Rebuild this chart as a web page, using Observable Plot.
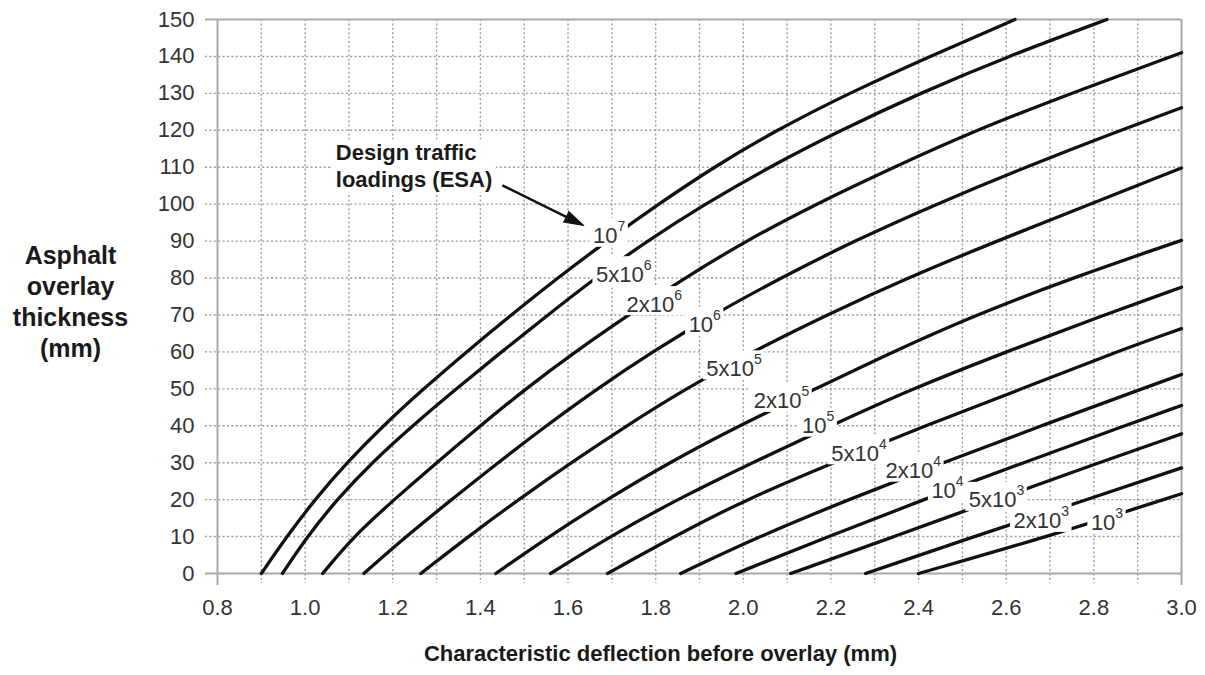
<!DOCTYPE html>
<html>
<head>
<meta charset="utf-8">
<script src="https://cdn.jsdelivr.net/npm/d3@7"></script>
<script src="https://cdn.jsdelivr.net/npm/@observablehq/plot@0.6"></script>
<style>
  html, body { margin: 0; padding: 0; background: #fff; }
  #chart svg { display: block; }
</style>
</head>
<body>
<div id="chart"></div>
<script>
// Design traffic loadings (ESA): label base and exponent, one per curve
const loadingBase = ["10", "5x10", "2x10", "10", "5x10", "2x10", "10", "5x10", "2x10", "10", "5x10", "2x10", "10"];
const loadingExp  = ["7",  "6",    "6",    "6",  "5",    "5",    "5",  "4",    "4",    "4",  "3",    "3",    "3"];

// Each curve: [characteristic deflection (mm), asphalt overlay thickness (mm)]
const curve1e7 = [[0.90,0],[0.958,10],[1.022,20],[1.095,30],[1.178,40],[1.27,50],[1.368,60],[1.47,70],[1.576,80],[1.688,90],[1.806,100],[1.932,110],[2.075,120],[2.24,130],[2.425,140],[2.62,150]];
const curve5e6 = [[0.948,0],[1.005,10],[1.072,20],[1.152,30],[1.245,40],[1.345,50],[1.448,60],[1.554,70],[1.662,80],[1.78,90],[1.912,100],[2.058,110],[2.222,120],[2.402,130],[2.603,140],[2.83,150]];
const curve2e6 = [[1.04,0],[1.11,10],[1.203,20],[1.30,30],[1.40,40],[1.503,50],[1.616,60],[1.738,70],[1.866,80],[2.005,90],[2.165,100],[2.343,110],[2.53,120],[2.748,130],[3.0,141]];
const curve1e6 = [[1.134,0],[1.23,10],[1.334,20],[1.44,30],[1.55,40],[1.666,50],[1.792,60],[1.93,70],[2.085,80],[2.252,90],[2.44,100],[2.643,110],[2.86,120],[3.0,126.1]];
const curve5e5 = [[1.264,0],[1.372,10],[1.487,20],[1.607,30],[1.733,40],[1.868,50],[2.02,60],[2.19,70],[2.374,80],[2.578,90],[2.792,100],[3.0,109.8]];
const curve2e5 = [[1.435,0],[1.556,10],[1.688,20],[1.83,30],[1.99,40],[2.165,50],[2.34,60],[2.53,70],[2.75,80],[3.0,90.2]];
const curve1e5 = [[1.56,0],[1.695,10],[1.848,20],[2.02,30],[2.2,40],[2.385,50],[2.6,60],[2.823,70],[3.0,77.5]];
const curve5e4 = [[1.69,0],[1.842,10],[2.005,20],[2.205,30],[2.415,40],[2.636,50],[2.85,60],[3.0,66.3]];
const curve2e4 = [[1.857,0],[2.035,10],[2.24,20],[2.455,30],[2.68,40],[2.91,50],[3.0,53.9]];
const curve1e4 = [[1.983,0],[2.195,10],[2.41,20],[2.64,30],[2.87,40],[3.0,45.5]];
const curve5e3 = [[2.108,0],[2.345,10],[2.576,20],[2.812,30],[3.0,37.8]];
const curve2e3 = [[2.279,0],[2.525,10],[2.785,20],[3.0,28.6]];
const curve1e3 = [[2.40,0],[2.71,10.5],[3.0,21.6]];

const curves = [curve1e7, curve5e6, curve2e6, curve1e6, curve5e5, curve2e5, curve1e5,
                curve5e4, curve2e4, curve1e4, curve5e3, curve2e3, curve1e3];

// Where each loading label sits on the chart (deflection, thickness)
const labelDeflection = [1.694, 1.727, 1.797, 1.912, 1.979, 2.087, 2.171, 2.264, 2.388, 2.466, 2.578, 2.68, 2.83];
const labelThickness  = [91.3, 80.9, 72.8, 67.2, 55.4, 46.6, 39.9, 32.4, 27.7, 22.3, 19.8, 14.1, 13.7];

// Axis ticks
const xTicks = [0.8, 1.0, 1.2, 1.4, 1.6, 1.8, 2.0, 2.2, 2.4, 2.6, 2.8, 3.0];
const yTicks = [0, 10, 20, 30, 40, 50, 60, 70, 80, 90, 100, 110, 120, 130, 140, 150];

// Callout text and arrow (deflection, thickness)
const noteLines = ["Design traffic", "loadings (ESA)"];
const notePos = [1.07, 110.6];
const arrowFrom = [1.45, 105.1];
const arrowTo = [1.636, 94.2];

const xTitle = "Characteristic deflection before overlay (mm)";
const yTitle = ["Asphalt", "overlay", "thickness", "(mm)"];

// ---- layout ----
const W = 1205, H = 675;
const margin = {top: 19, right: 24, bottom: 102, left: 217};
const xDomain = [0.8, 3.0], yDomain = [0, 150];
const kx = (W - margin.left - margin.right) / (xDomain[1] - xDomain[0]); // px per mm deflection
const ky = (H - margin.top - margin.bottom) / (yDomain[1] - yDomain[0]); // px per mm thickness

const font = "'Liberation Sans', Arial, Helvetica, sans-serif";
const ctx = document.createElement("canvas").getContext("2d");
function textWidth(s, size, weight = "normal") {
  ctx.font = `${weight} ${size}px ${font}`;
  return ctx.measureText(s).width;
}

// Finer grid every 0.1 mm / 10 mm
const xGrid = d3.range(9, 30).map(d => d / 10);
const yGrid = yTicks.filter(d => d > 0 && d < 150);

const curveRows = curves.flatMap((pts, i) => pts.map(([d, t]) => ({d, t, i})));

// Label pieces with a white box behind each one
const labels = loadingBase.map((base, i) => {
  const exp = loadingExp[i];
  const wb = textWidth(base, 22), we = textWidth(exp, 14);
  const w = wb + we;
  const cx = labelDeflection[i], cy = labelThickness[i];
  const left = cx - (w / 2) / kx;
  return {
    base, exp, cy,
    xBase: left, xExp: left + wb / kx, yExp: cy + 9.5 / ky,
    x1: cx - (w / 2 + 3) / kx, x2: cx + (w / 2 + 3) / kx,
    y1: cy - 11 / ky, y2: cy + 18 / ky
  };
});

const noteW = Math.max(...noteLines.map(s => textWidth(s, 22, "bold")));
const noteBox = [{
  x1: notePos[0] - 4 / kx, x2: notePos[0] + (noteW + 4) / kx,
  y1: notePos[1] - 28 / ky, y2: notePos[1] + 25 / ky
}];

// Arrow direction in screen space
const adx = (arrowTo[0] - arrowFrom[0]) * kx;
const ady = -(arrowTo[1] - arrowFrom[1]) * ky;
const alen = Math.hypot(adx, ady);
const arrowAngle = Math.atan2(adx, -ady) * 180 / Math.PI;
const shaftEnd = [arrowTo[0] - (adx / alen) * 14 / kx, arrowTo[1] + (ady / alen) * 14 / ky];

const gridStyle = {stroke: "#9a9a9a", strokeWidth: 1.4, strokeDasharray: "2,2.4"};
const frameStyle = {stroke: "#a8a8a8", strokeWidth: 2};

const chart = Plot.plot({
  width: W,
  height: H,
  marginTop: margin.top,
  marginRight: margin.right,
  marginBottom: margin.bottom,
  marginLeft: margin.left,
  x: {domain: xDomain},
  y: {domain: yDomain},
  style: {fontFamily: font, fontSize: "22px", color: "#333", background: "#fff"},
  marks: [
    Plot.ruleY(yGrid, {...gridStyle, insetLeft: -12}),
    Plot.ruleX(xGrid, {...gridStyle, insetBottom: -10}),
    Plot.ruleY([0, 150], {...frameStyle, insetLeft: -12}),
    Plot.ruleX([0.8, 3.0], {...frameStyle, insetBottom: -12}),
    Plot.axisX(xTicks, {tickSize: 0, tickPadding: 26, tickFormat: d => d.toFixed(1), label: null, color: "#333"}),
    Plot.axisY(yTicks, {tickSize: 0, tickPadding: 23, label: null, color: "#333"}),
    Plot.line(curveRows, {x: "d", y: "t", z: "i", stroke: "#111", strokeWidth: 3.3, curve: "basis"}),
    Plot.rect(labels, {x1: "x1", x2: "x2", y1: "y1", y2: "y2", fill: "#fff"}),
    Plot.text(labels, {x: "xBase", y: "cy", text: "base", textAnchor: "start", fontSize: 22, fill: "#333"}),
    Plot.text(labels, {x: "xExp", y: "yExp", text: "exp", textAnchor: "start", fontSize: 14, fill: "#333"}),
    Plot.rect(noteBox, {x1: "x1", x2: "x2", y1: "y1", y2: "y2", fill: "#fff"}),
    Plot.text([{x: notePos[0], y: notePos[1], text: noteLines.join("\n")}], {
      x: "x", y: "y", text: "text", textAnchor: "start", lineHeight: 1.21,
      fontSize: 22, fontWeight: "bold", fill: "#1a1a1a"
    }),
    Plot.link([{x1: arrowFrom[0], y1: arrowFrom[1], x2: shaftEnd[0], y2: shaftEnd[1]}], {
      x1: "x1", y1: "y1", x2: "x2", y2: "y2", stroke: "#111", strokeWidth: 2.5
    }),
    Plot.vector([{x: arrowTo[0], y: arrowTo[1]}], {
      x: "x", y: "y", rotate: arrowAngle, length: 20, r: 6, shape: "spike",
      anchor: "end", fill: "#111", stroke: "#111", strokeWidth: 1
    }),
    Plot.text([xTitle], {
      frameAnchor: "bottom", lineAnchor: "middle", dx: -39, dy: 80, text: d => d,
      fontSize: 22, fontWeight: "bold", fill: "#1a1a1a"
    }),
    Plot.text([yTitle.join("\n")], {
      frameAnchor: "left", lineAnchor: "middle", dx: -147, dy: 4, text: d => d, lineHeight: 1.25,
      fontSize: 25, fontWeight: "bold", fill: "#1a1a1a", textAnchor: "middle"
    })
  ]
});

document.getElementById("chart").appendChild(chart);
</script>
</body>
</html>
